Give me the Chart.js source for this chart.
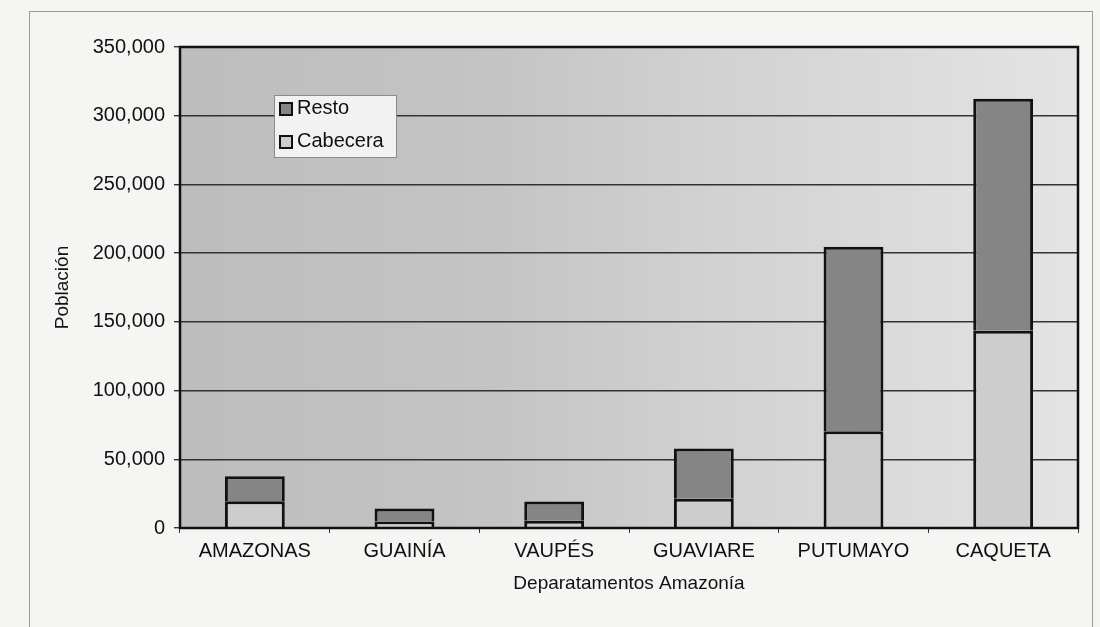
<!DOCTYPE html>
<html>
<head>
<meta charset="utf-8">
<script src="https://cdn.jsdelivr.net/npm/chart.js@4/dist/chart.umd.min.js"></script>
<style>
  html, body { margin: 0; padding: 0; background: #f5f5f3; }
  #wrap { position: relative; width: 1100px; height: 627px; }
  #frame {
    position: absolute; left: 29px; top: 11px; width: 1062px; height: 640px;
    border: 1px solid #9a9a9a;
  }
  canvas { position: absolute; left: 0; top: 0; }
</style>
</head>
<body>
<div id="wrap">
  <div id="frame"></div>
  <canvas id="popChart" width="1100" height="627"></canvas>
</div>
<script>
// Departamentos de la Amazonía, población por zona
const departamentos = ['AMAZONAS', 'GUAINÍA', 'VAUPÉS', 'GUAVIARE', 'PUTUMAYO', 'CAQUETA'];
const cabecera = [19400, 4800, 5300, 21300, 70400, 143600];
const resto = [18200, 9300, 13900, 36500, 134300, 168700];
const yTicks = [0, 50000, 100000, 150000, 200000, 250000, 300000, 350000];

const FONT = 'Liberation Sans, Arial, sans-serif';
const INK = '#111';

// gray plot background, darker on the left like the scan
const plotBackground = {
  id: 'plotBackground',
  beforeDraw(chart) {
    const { ctx, chartArea: a } = chart;
    const g = ctx.createLinearGradient(a.left, 0, a.right, 0);
    g.addColorStop(0, '#bdbdbd');
    g.addColorStop(0.35, '#c4c4c4');
    g.addColorStop(0.6, '#d2d2d2');
    g.addColorStop(1, '#e4e4e4');
    ctx.save();
    ctx.fillStyle = g;
    ctx.fillRect(a.left, a.top, a.right - a.left, a.bottom - a.top);
    ctx.restore();
  },
  afterDraw(chart) {
    const { ctx, chartArea: a } = chart;
    ctx.save();
    ctx.strokeStyle = INK;
    ctx.lineWidth = 2.5;
    ctx.strokeRect(a.left, a.top, a.right - a.left, a.bottom - a.top);
    ctx.restore();
  }
};

// legend box inside the plot, Resto above Cabecera
const insideLegend = {
  id: 'insideLegend',
  afterDraw(chart) {
    const { ctx, chartArea: a } = chart;
    const x = a.left + 94, y = a.top + 48, w = 122, h = 62;
    ctx.save();
    ctx.fillStyle = '#f2f2f2';
    ctx.fillRect(x, y, w, h);
    ctx.strokeStyle = '#8a8a8a';
    ctx.lineWidth = 1;
    ctx.strokeRect(x + 0.5, y + 0.5, w, h);
    const items = chart.data.datasets.slice().reverse();
    ctx.font = '20px ' + FONT;
    ctx.textBaseline = 'middle';
    items.forEach((ds, i) => {
      const cy = y + 13 + i * 33;
      ctx.fillStyle = ds.backgroundColor;
      ctx.fillRect(x + 6, cy - 5, 12, 12);
      ctx.strokeStyle = INK;
      ctx.lineWidth = 2;
      ctx.strokeRect(x + 6, cy - 5, 12, 12);
      ctx.fillStyle = INK;
      ctx.fillText(ds.label, x + 23, cy);
    });
    ctx.restore();
  }
};

new Chart(document.getElementById('popChart'), {
  type: 'bar',
  data: {
    labels: departamentos,
    datasets: [
      {
        label: 'Cabecera',
        data: cabecera,
        backgroundColor: '#cdcdcd',
        borderColor: INK,
        borderWidth: 3
      },
      {
        label: 'Resto',
        data: resto,
        backgroundColor: '#858585',
        borderColor: INK,
        borderWidth: 3
      }
    ]
  },
  options: {
    responsive: false,
    animation: false,
    layout: { padding: { left: 47, top: 47, right: 22, bottom: 28 } },
    datasets: { bar: { categoryPercentage: 1, barPercentage: 0.4 } },
    plugins: {
      legend: { display: false },
      tooltip: { enabled: false }
    },
    scales: {
      x: {
        stacked: true,
        afterFit(s) { s.height = 71; },
        grid: { drawOnChartArea: false, drawTicks: true, tickLength: 5, color: '#333' },
        border: { display: false },
        ticks: { color: INK, padding: 6, font: { family: FONT, size: 20 }, maxRotation: 0 },
        title: {
          display: true, text: 'Deparatamentos Amazonía', color: INK,
          font: { family: FONT, size: 19 }, padding: { top: 0, bottom: 4 }
        }
      },
      y: {
        stacked: true,
        min: 0, max: 350000,
        afterFit(s) { s.width = 133; },
        afterBuildTicks(s) { s.ticks = yTicks.map(v => ({ value: v })); },
        grid: { color: '#333', lineWidth: 1.4, tickLength: 6 },
        border: { display: false },
        ticks: {
          color: INK, padding: 9, font: { family: FONT, size: 20 },
          callback: v => v.toLocaleString('en-US')
        },
        title: {
          display: true, text: 'Población', color: INK,
          font: { family: FONT, size: 19 }, padding: { top: 4, bottom: 0 }
        }
      }
    }
  },
  plugins: [plotBackground, insideLegend]
});
</script>
</body>
</html>
